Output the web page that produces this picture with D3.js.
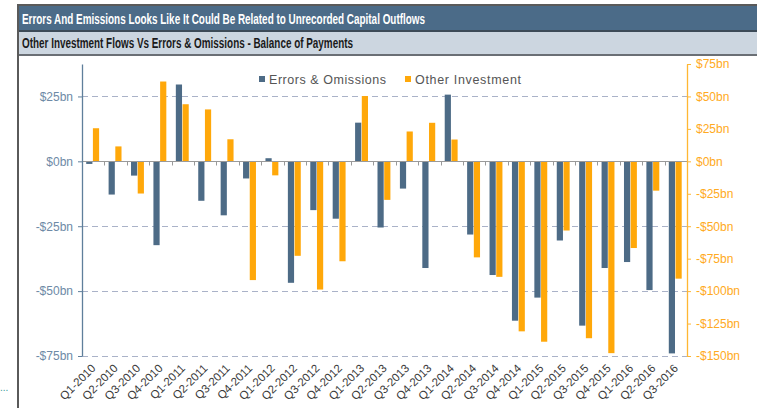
<!DOCTYPE html>
<html><head><meta charset="utf-8">
<script src="https://cdn.jsdelivr.net/npm/d3@7"></script>
<style>body{margin:0;background:#fff;}svg{display:block;}</style>
</head><body>
<svg id="c" width="757" height="408"></svg>
<script>
const quarters = ["Q1-2010","Q2-2010","Q3-2010","Q4-2010","Q1-2011","Q2-2011","Q3-2011","Q4-2011",
"Q1-2012","Q2-2012","Q3-2012","Q4-2012","Q1-2013","Q2-2013","Q3-2013","Q4-2013",
"Q1-2014","Q2-2014","Q3-2014","Q4-2014","Q1-2015","Q2-2015","Q3-2015","Q4-2015",
"Q1-2016","Q2-2016","Q3-2016"];
const errorsOmissions = [-1,-12.8,-5.5,-32.3,29.6,-15.2,-20.8,-6.6,1.2,-46.8,-18.8,-22.1,14.9,-25.5,-10.5,-41.1,
25.7,-28.2,-43.8,-61.4,-52.5,-30.5,-63.3,-41.1,-38.8,-49.6,-74];
const otherInvestment = [25.5,11.5,-24.8,61.5,44,40,17,-91.5,-10.8,-72.8,-98.8,-77,50.3,-29.7,23,29.7,
16.8,-74,-89,-131,-139,-53.3,-136.3,-147.8,-66.8,-22.6,-90.4];
const leftTicks = [25,0,-25,-50,-75];
const rightTicks = [75,50,25,0,-25,-50,-75,-100,-125,-150];
const title = "Errors And Emissions Looks Like It Could Be Related to Unrecorded Capital Outflows";
const subtitle = "Other Investment Flows Vs Errors & Omissions - Balance of Payments";
const seriesNames = ["Errors & Omissions","Other Investment"];

const svg = d3.select("#c");
const blue = "#4d6b86", orange = "#FFA80A";

// frame and header
svg.append("rect").attr("x",18).attr("y",5).attr("width",760).attr("height",420).attr("fill","#fff").attr("stroke","#5a5a5a").attr("stroke-width",2);
svg.append("rect").attr("x",19).attr("y",6).attr("width",740).attr("height",24).attr("fill","#4b6b88");
svg.append("rect").attr("x",19).attr("y",30).attr("width",740).attr("height",2).attr("fill","#3c4a57");
svg.append("rect").attr("x",19).attr("y",32).attr("width",740).attr("height",22).attr("fill","#ccd6e0");
svg.append("rect").attr("x",19).attr("y",54).attr("width",740).attr("height",2).attr("fill","#6a6f75");
svg.append("text").attr("x",22).attr("y",23.5).attr("fill","#fff")
  .style("font-family","'Liberation Sans Narrow','Arial Narrow',sans-serif").style("font-weight","bold").style("font-size","15px")
  .attr("textLength",403).attr("lengthAdjust","spacingAndGlyphs").text(title);
svg.append("text").attr("x",22).attr("y",48).attr("fill","#1a1a1a")
  .style("font-family","'Liberation Sans Narrow','Arial Narrow',sans-serif").style("font-weight","bold").style("font-size","14.5px")
  .attr("textLength",331).attr("lengthAdjust","spacingAndGlyphs").text(subtitle);
svg.append("text").attr("x",0).attr("y",391).attr("fill","#3a9a9a").style("font-size","10px").style("font-family","Liberation Sans").text("...");

// scales
const x = d3.scaleBand().domain(quarters).range([82,687]).padding(0);
const yL = d3.scaleLinear().domain([-75,37.5]).range([356,64]);
const yR = d3.scaleLinear().domain([-150,75]).range([356,64]);
const fmt = v => (v<0?"-$":"$")+Math.abs(v)+"bn";

// grid
const g = svg.append("g");
g.selectAll("line.grid").data(leftTicks.filter(v=>v!==0)).join("line")
  .attr("x1",82).attr("x2",687).attr("y1",d=>Math.round(yL(d))+0.5).attr("y2",d=>Math.round(yL(d))+0.5)
  .attr("stroke","#aab2c8").attr("stroke-width",1.2).attr("stroke-dasharray","6,4");

// bars
const bw = 6.2;
svg.append("g").selectAll("rect").data(quarters).join("rect")
  .attr("x",(d)=>x(d)+x.bandwidth()/2-7).attr("width",bw)
  .attr("y",(d,i)=>yL(Math.max(0,errorsOmissions[i])))
  .attr("height",(d,i)=>Math.abs(yL(errorsOmissions[i])-yL(0)))
  .attr("fill",blue);
svg.append("g").selectAll("rect").data(quarters).join("rect")
  .attr("x",(d)=>x(d)+x.bandwidth()/2-0.3).attr("width",bw)
  .attr("y",(d,i)=>yR(Math.max(0,otherInvestment[i])))
  .attr("height",(d,i)=>Math.abs(yR(otherInvestment[i])-yR(0)))
  .attr("fill",orange);

// zero line and category ticks
const z = Math.round(yL(0))+0.5;
svg.append("line").attr("x1",82).attr("x2",687).attr("y1",z).attr("y2",z).attr("stroke","#9a9a9a").attr("stroke-width",1);
svg.append("g").selectAll("line").data(quarters.slice(1)).join("line")
  .attr("x1",d=>Math.round(x(d))+0.5).attr("x2",d=>Math.round(x(d))+0.5).attr("y1",z).attr("y2",z+4)
  .attr("stroke","#9a9a9a");

// left axis
const la = svg.append("g").attr("transform","translate(82,0)")
  .call(d3.axisLeft(yL).tickValues(leftTicks).tickFormat(fmt).tickSize(4).tickSizeOuter(0));
la.select(".domain").attr("stroke","#5f7f9b").attr("stroke-width",1.3);
la.selectAll(".tick line").attr("stroke","#5f7f9b");
la.selectAll(".tick text").attr("fill","#6e8aa6").attr("x",-9).style("font-size","12px").style("font-family","'Liberation Sans',Arial,sans-serif");

// right axis
const ra = svg.append("g").attr("transform","translate(687,0)")
  .call(d3.axisRight(yR).tickValues(rightTicks).tickFormat(fmt).tickSize(4).tickSizeOuter(0));
ra.select(".domain").attr("stroke","#FFB733").attr("stroke-width",1.3);
ra.selectAll(".tick line").attr("stroke","#FFB733");
ra.selectAll(".tick text").attr("fill","#FFAA22").attr("x",9).style("font-size","12px").style("font-family","'Liberation Sans',Arial,sans-serif");

// x labels
svg.append("g").selectAll("text").data(quarters).join("text")
  .attr("transform",d=>`translate(${x(d)+x.bandwidth()/2+3},${369}) rotate(-45)`)
  .attr("text-anchor","end").attr("fill","#3a3a3a")
  .style("font-size","11.5px").style("font-family","'Liberation Sans',Arial,sans-serif")
  .text(d=>d);

// legend
const leg = svg.append("g").style("font-family","'Liberation Sans',Arial,sans-serif").style("font-size","12.5px");
const legX = [259,405];
const legW = [117,106];
seriesNames.forEach((n,i)=>{
  leg.append("rect").attr("x",legX[i]).attr("y",76).attr("width",6).attr("height",6).attr("fill",i?orange:blue);
  leg.append("text").attr("x",legX[i]+10).attr("y",84).attr("fill","#555")
    .attr("textLength",legW[i]).attr("lengthAdjust","spacing").text(n);
});
</script>
</body></html>
